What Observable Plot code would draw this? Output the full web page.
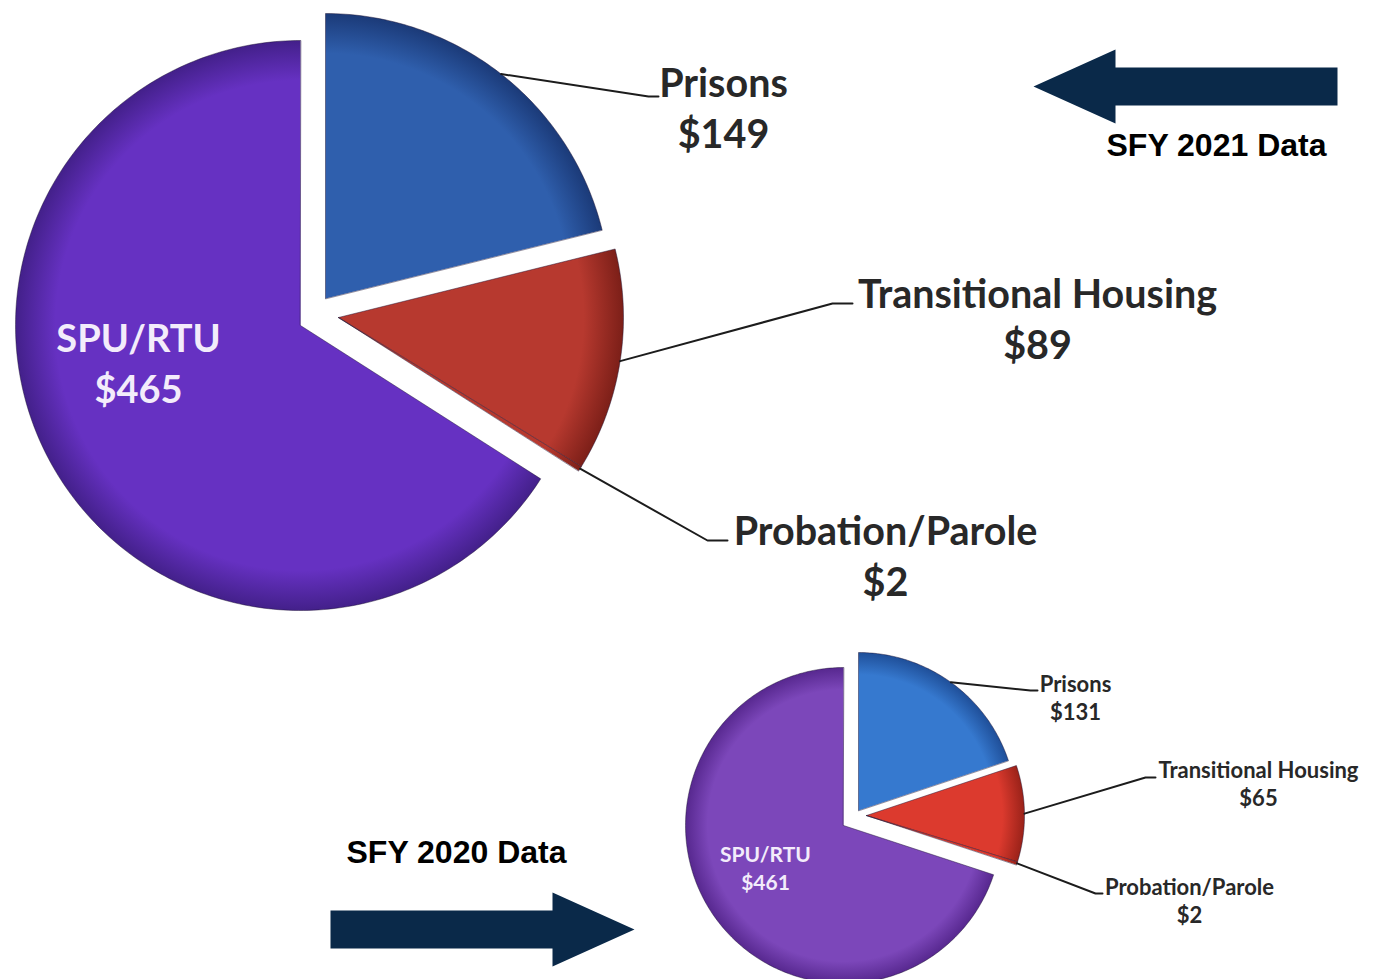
<!DOCTYPE html>
<html><head><meta charset="utf-8">
<script src="https://cdn.jsdelivr.net/npm/d3@7"></script>
<script src="https://cdn.jsdelivr.net/npm/@observablehq/plot@0.6"></script>
<style>html,body{margin:0;padding:0;background:#fff}svg{display:block}</style>
</head><body><div id="chart"></div>
<script>
// ---- data ----
const categories = ["Prisons", "Transitional Housing", "Probation/Parole", "SPU/RTU"];
const values2021 = [149, 89, 2, 465];
const values2020 = [131, 65, 2, 461];
const yearLabels = ["SFY 2021 Data", "SFY 2020 Data"];

// ---- layout ----
const W = 1374, H = 979;
const pies = [
  { id: "y2021", values: values2021, cx: 300, cy: 325, r: 285,
    offsets: [[25, -27], [38, -8], [38, -8], [0, 0]],
    colors: ["#2f5fad", "#b7392f", "#b7392f", "#6631c2"],
    dark: ["#1b3a78", "#7c1f18", "#7c1f18", "#43208a"],
    elbows: [[648, 96], [832, 303], [707, 540]],
    ends: [[658, 96], [852, 303], [727, 540]],
    labelPos: [[723, 106], [1037, 317], [885, 554], [138, 361]],
    fontSize: 39.5, insideSize: 38, lh: 1.27 },
  { id: "y2020", values: values2020, cx: 843, cy: 825, r: 158,
    offsets: [[15, -15], [23, -10], [23, -10], [0, 0]],
    colors: ["#3679cf", "#dc3a2e", "#dc3a2e", "#7c47ba"],
    dark: ["#1f4f99", "#9a2219", "#9a2219", "#57288f"],
    elbows: [[1030, 690], [1145, 777], [1095, 893]],
    ends: [[1037, 690], [1155, 777], [1102, 893]],
    labelPos: [[1075, 697], [1258, 783], [1189, 900], [765, 867]],
    fontSize: 22, insideSize: 21, lh: 1.27 }
];
const arrows = [
  { tipX: 1033, baseX: 1115, tailX: 1337, cy: 86, shaftHalf: 19, headHalf: 37 },
  { tipX: 634, baseX: 552, tailX: 330, cy: 929, shaftHalf: 19, headHalf: 37 }
];
const yearPos = [[1216, 145], [456, 852]];

// ---- geometry from data ----
const slicePts = [], leaderPts = [], labels = [], sliceKeys = [], sliceFills = [], gradients = [];
pies.forEach((pie, pi) => {
  const arcs = d3.pie().sort(null).value(d => d)(pie.values);
  arcs.forEach((a, i) => {
    const key = pie.id + "|" + categories[i];
    const ax = pie.cx + pie.offsets[i][0], ay = pie.cy + pie.offsets[i][1];
    sliceKeys.push(key);
    const gid = "g" + sliceKeys.length;
    sliceFills.push(`url(#${gid})`);
    gradients.push({ id: gid, x: ax, y: ay, r: pie.r, c: pie.colors[i], d: pie.dark[i] });
    slicePts.push({ key, x: ax, y: ay });
    const n = Math.max(2, Math.ceil((a.endAngle - a.startAngle) / (Math.PI / 180)));
    for (let k = 0; k <= n; k++) {
      const t = a.startAngle + (a.endAngle - a.startAngle) * k / n;
      slicePts.push({ key, x: ax + pie.r * Math.sin(t), y: ay - pie.r * Math.cos(t) });
    }
    const mid = (a.startAngle + a.endAngle) / 2;
    const text = categories[i] + "\n$" + pie.values[i];
    if (i < 3) {
      const sx = ax + pie.r * Math.sin(mid), sy = ay - pie.r * Math.cos(mid);
      leaderPts.push({ key, x: sx, y: sy });
      leaderPts.push({ key, x: pie.elbows[i][0], y: pie.elbows[i][1] });
      leaderPts.push({ key, x: pie.ends[i][0], y: pie.ends[i][1] });
      labels.push({ pie: pi, text, x: pie.labelPos[i][0], y: pie.labelPos[i][1], inside: false });
    } else {
      labels.push({ pie: pi, text, x: pie.labelPos[i][0], y: pie.labelPos[i][1], inside: true });
    }
  });
});
const arrowPts = [];
arrows.forEach((a, j) => {
  const pts = [[a.tailX, a.cy - a.shaftHalf], [a.baseX, a.cy - a.shaftHalf], [a.baseX, a.cy - a.headHalf],
    [a.tipX, a.cy], [a.baseX, a.cy + a.headHalf], [a.baseX, a.cy + a.shaftHalf], [a.tailX, a.cy + a.shaftHalf]];
  pts.forEach(p => arrowPts.push({ key: "a" + j, x: p[0], y: p[1] }));
});
const yearText = yearLabels.map((t, i) => ({ text: t, x: yearPos[i][0], y: yearPos[i][1] }));

const font = "Lato, 'Open Sans', sans-serif";
const textMarks = pies.map((p, pi) => [
  Plot.text(labels.filter(l => l.pie === pi && !l.inside), {
    x: "x", y: "y", text: "text", fontSize: p.fontSize, lineHeight: p.lh, fontWeight: "bold",
    fontFamily: font, fill: "#282828", textAnchor: "middle", lineAnchor: "middle"
  }),
  Plot.text(labels.filter(l => l.pie === pi && l.inside), {
    x: "x", y: "y", text: "text", fontSize: p.insideSize, lineHeight: p.lh * p.fontSize / p.insideSize, fontWeight: "bold",
    fontFamily: font, fill: "#f3ecfb", textAnchor: "middle", lineAnchor: "middle"
  })
]).flat();

const chart = Plot.plot({
  width: W, height: H, margin: 0,
  x: { domain: [0, W], range: [0, W], axis: null },
  y: { domain: [0, H], range: [0, H], axis: null },
  color: { type: "ordinal", domain: sliceKeys, range: sliceFills },
  style: { background: "#fff" },
  marks: [
    Plot.line(slicePts, { x: "x", y: "y", z: "key", fill: "key", stroke: "#1a1030", strokeOpacity: 0.45, strokeWidth: 1, curve: "linear-closed" }),
    Plot.line(leaderPts, { x: "x", y: "y", z: "key", stroke: "#1c1c1c", strokeWidth: 2 }),
    Plot.line(arrowPts, { x: "x", y: "y", z: "key", fill: "#0a2949", stroke: "none", curve: "linear-closed" }),
    Plot.text(yearText, { x: "x", y: "y", text: "text", fontSize: 32, fontWeight: "bold",
      fontFamily: "'Liberation Sans', Arial, sans-serif", fill: "#000", textAnchor: "middle" }),
    ...textMarks
  ]
});

// gradients for shaded slices (positions through the plot's own scales)
const sx = chart.scale("x"), sy = chart.scale("y");
const defs = d3.select(chart).insert("defs", ":first-child");
gradients.forEach(g => {
  const rg = defs.append("radialGradient").attr("id", g.id).attr("gradientUnits", "userSpaceOnUse")
    .attr("cx", sx.apply(g.x)).attr("cy", sy.apply(g.y)).attr("r", g.r);
  rg.append("stop").attr("offset", 0).attr("stop-color", g.c);
  rg.append("stop").attr("offset", 0.86).attr("stop-color", g.c);
  rg.append("stop").attr("offset", 1).attr("stop-color", g.d);
});
document.getElementById("chart").append(chart);
</script>
</body></html>
